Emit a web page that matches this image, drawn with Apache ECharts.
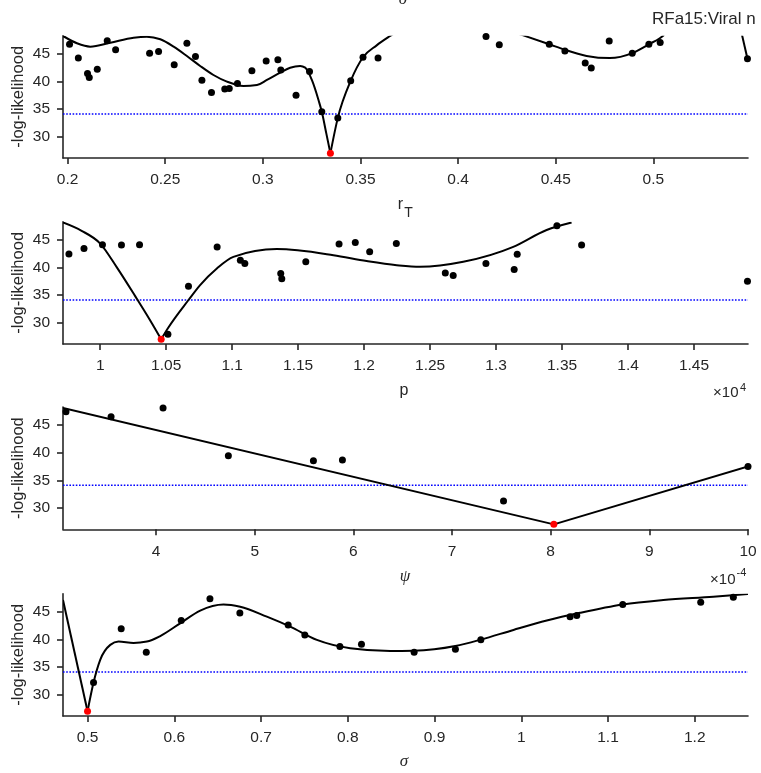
<!DOCTYPE html>
<html><head><meta charset="utf-8">
<script src="https://cdn.jsdelivr.net/npm/echarts@6/dist/echarts.min.js"></script>
<style>html,body{margin:0;padding:0;background:#fff}#c{width:761px;height:773px}</style>
</head><body><div id="c"></div>
<script>
// ---------- data ----------
const yTicks = [30, 35, 40, 45];
const threshold = 34.1;

// panel 1 : r_T
const p1Ticks = [0.2, 0.25, 0.3, 0.35, 0.4, 0.45, 0.5];
const p1X = [0.201,0.2055,0.2102,0.2111,0.2152,0.2203,0.2246,0.242,0.2466,0.2546,0.2611,0.2655,0.2688,0.2737,0.2805,0.2828,0.287,0.2944,0.3017,0.3077,0.3092,0.317,0.3239,0.3302,0.3384,0.345,0.3513,0.359,0.4143,0.4211,0.4467,0.4547,0.4651,0.4682,0.4774,0.4892,0.4977,0.5035,0.5482];
const p1Y = [46.7,44.2,41.4,40.7,42.2,47.35,45.7,45.1,45.4,43.0,46.9,44.5,40.2,38.0,38.6,38.7,39.6,41.9,43.7,43.9,42.05,37.5,41.8,34.5,33.4,40.1,44.35,44.2,48.1,46.6,46.7,45.5,43.3,42.4,47.3,45.1,46.7,47.0,44.1];
const p1Best = [0.3346, 27.0];
const p1CurveX = [0.19765,0.2048,0.2116,0.2219,0.2338,0.2406,0.2475,0.2543,0.2611,0.2679,0.2747,0.2816,0.2901,0.297,0.3021,0.3089,0.314,0.3191,0.3217,0.3251,0.3285,0.3302,0.3325,0.3346,null,0.3346,0.3384,0.345,0.3513,0.3583,0.3652,0.37,null,0.430,0.4334,0.4467,0.4547,0.4658,0.4777,0.4892,0.4977,0.5033,0.5055,null,0.5454,0.5482];
const p1CurveY = [48.2,46.88,46.27,46.99,47.9,48.07,47.6,46.27,44.58,42.78,41.15,39.95,39.16,39.34,40.25,41.57,42.47,42.78,42.47,40.25,36.63,34.5,30.6,27.0,null,27.0,33.4,40.1,44.35,46.5,48.2,49.3,null,48.7,48.3,46.7,45.7,44.6,44.2,45.1,46.7,47.8,48.4,null,48.4,44.1];

// panel 2 : p (x 10^4)
const p2Ticks = [1, 1.05, 1.1, 1.15, 1.2, 1.25, 1.3, 1.35, 1.4, 1.45];
const p2X = [0.9763,0.9877,1.0017,1.0161,1.0298,1.0513,1.0669,1.0886,1.1062,1.1096,1.1368,1.1376,1.1558,1.181,1.1933,1.2042,1.2244,1.2615,1.2675,1.2923,1.3137,1.316,1.3461,1.3648,1.4905];
const p2Y = [42.4,43.4,44.1,44.05,44.1,27.9,36.6,43.7,41.3,40.7,38.9,37.95,41.0,44.2,44.5,42.8,44.3,39.0,38.55,40.7,39.6,42.35,47.5,44.05,37.5];
const p2Best = [1.0462, 27.0];
const p2CurveX = [0.9718,0.9859,1.0,1.0126,1.0265,1.0379,1.0462,null,1.0462,1.0513,1.0669,1.0757,1.0884,1.1009,1.1338,1.1767,1.2019,1.2247,1.2423,1.2751,1.313,1.3383,1.3572];
const p2CurveY = [48.1,46.6,44.3,40.0,34.8,30.4,27.0,null,27.0,29.0,34.1,36.8,39.8,41.9,43.3,42.2,41.15,40.4,40.1,41.0,43.7,46.75,48.1];

// panel 3 : psi (x 10^-4)
const p3Ticks = [4, 5, 6, 7, 8, 9, 10];
const p3X = [3.087,3.544,4.071,4.733,5.595,5.889,7.522,10.0];
const p3Y = [47.4,46.5,48.07,39.45,38.55,38.67,31.25,37.5];
const p3Best = [8.032, 27.04];
const p3CurveX = [3.0568, 8.032, null, 8.032, 10.0];
const p3CurveY = [48.07, 27.04, null, 27.04, 37.5];

// panel 4 : sigma
const p4Ticks = [0.5, 0.6, 0.7, 0.8, 0.9, 1, 1.1, 1.2];
const p4X = [0.5069,0.5388,0.5677,0.608,0.6411,0.6756,0.7313,0.7505,0.7909,0.8158,0.8765,0.9241,0.9534,1.0563,1.064,1.117,1.2069,1.2445];
const p4Y = [32.2,41.9,37.65,43.4,47.35,44.75,42.6,40.8,38.7,39.1,37.65,38.2,39.95,44.1,44.3,46.3,46.7,47.6];
const p4Best = [0.5, 27.0];
const p4CurveX = [0.4717,0.5,null,0.5,0.5069,0.5146,0.5262,0.5357,0.553,0.5684,0.5838,0.6068,0.6299,0.6567,0.676,0.7067,0.7336,0.7644,0.8028,0.8489,0.8757,0.924,0.9534,0.991,1.0294,1.0678,1.117,1.1638,1.2214,1.2614];
const p4CurveY = [47.1,27.0,null,27.0,32.2,36.3,39.0,39.6,39.35,39.6,40.6,42.9,45.2,46.3,45.9,44.1,42.3,39.9,38.4,37.9,37.95,38.8,39.95,41.7,43.4,44.8,46.3,47.1,47.7,48.2];

// ---------- layout ----------
const panels = [
  {min:0.19765, max:0.54848, ticks:p1Ticks, x:p1X, y:p1Y, best:p1Best, cx:p1CurveX, cy:p1CurveY, top:35.7},
  {min:0.9718, max:1.4909, ticks:p2Ticks, x:p2X, y:p2Y, best:p2Best, cx:p2CurveX, cy:p2CurveY, top:221.7},
  {min:3.0568, max:10.0, ticks:p3Ticks, x:p3X, y:p3Y, best:p3Best, cx:p3CurveX, cy:p3CurveY, top:407.0},
  {min:0.4717, max:1.2614, ticks:p4Ticks, x:p4X, y:p4Y, best:p4Best, cx:p4CurveX, cy:p4CurveY, top:593.7}
];
const YMIN = 26.15, YMAX = 48.25, GH = 122.3, GL = 63, GW = 685;
const INK = '#262626';
const FONT = '"Liberation Sans", Arial, Helvetica, sans-serif';

// monotone cubic (x-monotone) path through pixel points
function sgn(v) { return v < 0 ? -1 : 1; }
function monotonePath(P) {
  const n = P.length;
  let d = 'M' + P[0][0] + ',' + P[0][1];
  if (n === 2) return d + 'L' + P[1][0] + ',' + P[1][1];
  const t = new Array(n).fill(0);
  for (let i = 1; i < n - 1; i++) {
    const h0 = P[i][0] - P[i-1][0], h1 = P[i+1][0] - P[i][0];
    const s0 = (P[i][1] - P[i-1][1]) / h0, s1 = (P[i+1][1] - P[i][1]) / h1;
    const p = (s0 * h1 + s1 * h0) / (h0 + h1);
    t[i] = (sgn(s0) + sgn(s1)) * Math.min(Math.abs(s0), Math.abs(s1), 0.5 * Math.abs(p)) || 0;
  }
  const sA = (P[1][1] - P[0][1]) / (P[1][0] - P[0][0]);
  t[0] = (3 * sA - t[1]) / 2;
  const sB = (P[n-1][1] - P[n-2][1]) / (P[n-1][0] - P[n-2][0]);
  t[n-1] = (3 * sB - t[n-2]) / 2;
  for (let i = 0; i < n - 1; i++) {
    const dx = (P[i+1][0] - P[i][0]) / 3;
    d += 'C' + (P[i][0] + dx) + ',' + (P[i][1] + dx * t[i]) + ',' +
         (P[i+1][0] - dx) + ',' + (P[i+1][1] - dx * t[i+1]) + ',' +
         P[i+1][0] + ',' + P[i+1][1];
  }
  return d;
}

const grids = [], xAxes = [], yAxes = [], series = [], graphics = [];
panels.forEach((p, i) => {
  grids.push({left: GL, top: p.top, width: GW, height: GH, containLabel: false});
  xAxes.push({
    type: 'value', gridIndex: i, min: p.min, max: p.max,
    splitLine: {show: false},
    axisLine: {show: true, onZero: false, lineStyle: {color: INK, width: 1.6}},
    axisTick: {show: true, customValues: p.ticks, length: 6, lineStyle: {color: INK, width: 1.6}},
    axisLabel: {show: true, customValues: p.ticks, margin: 14, color: INK, fontSize: 15.5, fontFamily: FONT,
      formatter: v => String(v)}
  });
  yAxes.push({
    type: 'value', gridIndex: i, min: YMIN, max: YMAX,
    splitLine: {show: false},
    axisLine: {show: true, onZero: false, lineStyle: {color: INK, width: 1.6}},
    axisTick: {show: true, customValues: yTicks, length: 6, lineStyle: {color: INK, width: 1.6}},
    axisLabel: {show: true, customValues: yTicks, margin: 13, color: INK, fontSize: 15.5, fontFamily: FONT,
      formatter: v => String(v)}
  });
  series.push({
    type: 'line', xAxisIndex: i, yAxisIndex: i, data: [[p.min, threshold], [p.max, threshold]],
    symbol: 'none', silent: true, lineStyle: {color: '#0000ff', width: 1.6, type: [1.6, 1.6]}, z: 2
  });
  let seg = [];
  const segs = [];
  for (let k = 0; k < p.cx.length; k++) {
    if (p.cx[k] === null) { if (seg.length) segs.push(seg); seg = []; }
    else seg.push([p.cx[k], p.cy[k]]);
  }
  if (seg.length) segs.push(seg);
  segs.forEach(s => series.push({
    type: 'custom', xAxisIndex: i, yAxisIndex: i, data: s, encode: {x: 0, y: 1},
    clip: true, silent: true, z: 3,
    renderItem: (params, api) => {
      if (params.dataIndex !== 0) return null;
      const pts = s.map(d => api.coord(d));
      return {type: 'path', shape: {pathData: monotonePath(pts)},
        style: {stroke: '#000', fill: 'none', lineWidth: 2}};
    }
  }));
  series.push({
    type: 'scatter', xAxisIndex: i, yAxisIndex: i, clip: false,
    data: p.x.map((v, k) => [v, p.y[k]]), symbolSize: 7,
    itemStyle: {color: '#000', opacity: 1}, z: 4
  });
  series.push({
    type: 'scatter', xAxisIndex: i, yAxisIndex: i, clip: false,
    data: [p.best], symbolSize: 7, itemStyle: {color: '#ff0000', opacity: 1}, z: 5
  });
  graphics.push({type: 'text', x: 18, y: p.top + GH / 2, rotation: Math.PI / 2,
    style: {text: '-log-likelihood', font: '16.5px ' + FONT, fill: INK, textAlign: 'center', textVerticalAlign: 'middle'}});
});

function txt(x, y, s, font, align) {
  graphics.push({type: 'text', x: x, y: y,
    style: {text: s, font: font, fill: INK, textAlign: align || 'center', textVerticalAlign: 'middle'}});
}
const SERIF = '"Liberation Serif", "DejaVu Serif", serif';
txt(403, 0, 'σ', 'italic 17px ' + SERIF);
txt(652, 19, 'RFa15:Viral n', '17px ' + FONT, 'left');
txt(400.5, 204.7, 'r', '16px ' + FONT);
txt(408.5, 213.4, 'T', '14px ' + FONT);
txt(404, 391, 'p', '16px ' + FONT);
txt(738.5, 393, '×10', '15px ' + FONT, 'right');
txt(740, 388, '4', '11px ' + FONT, 'left');
txt(405, 576.5, 'ψ', 'italic 17px ' + SERIF);
txt(735.5, 579.5, '×10', '15px ' + FONT, 'right');
txt(736.5, 573, '-4', '11px ' + FONT, 'left');
txt(404, 762, 'σ', 'italic 17px ' + SERIF);

const chart = echarts.init(document.getElementById('c'), null, {renderer: 'canvas'});
chart.setOption({
  animation: false,
  backgroundColor: '#fff',
  grid: grids, xAxis: xAxes, yAxis: yAxes, series: series, graphic: graphics
});
</script></body></html>
